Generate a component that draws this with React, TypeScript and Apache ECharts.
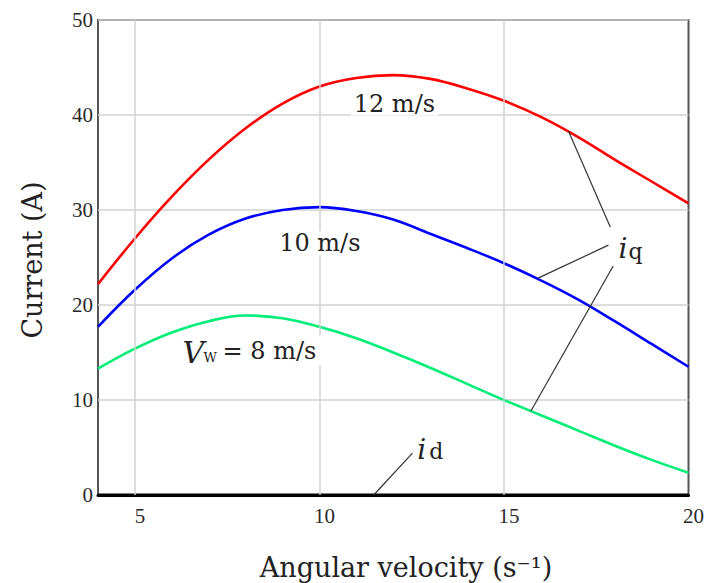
import React, { useEffect, useRef } from "react";
import * as echarts from "echarts";

// Angular velocity samples (s^-1)
const omega = [4, 5, 6, 7, 8, 9, 10, 11, 12, 13, 14, 15, 16, 17, 18, 19, 20];

// q-axis current (A) for three wind speeds
const iq12 = [22.2, 27.0, 31.4, 35.3, 38.6, 41.2, 43.0, 43.9, 44.2, 43.8, 42.8, 41.5, 39.8, 37.7, 35.3, 33.0, 30.7];
const iq10 = [17.7, 21.6, 24.9, 27.4, 29.1, 30.0, 30.3, 29.9, 29.0, 27.5, 26.0, 24.4, 22.6, 20.6, 18.3, 15.9, 13.5];
const iq8 = [13.3, 15.4, 17.1, 18.3, 18.9, 18.6, 17.7, 16.5, 15.0, 13.4, 11.7, 10.0, 8.4, 6.8, 5.2, 3.7, 2.35];
// d-axis current (A) is held at zero
const id = [0, 0, 0, 0, 0, 0, 0, 0, 0, 0, 0, 0, 0, 0, 0, 0, 0];

const xGridValues = [5, 10, 15];

const SERIF = "'DejaVu Serif', serif";
const TICK_FONT = "'Liberation Serif', serif";

const pairs = (ys: number[]) => omega.map((x, i) => [x, ys[i]]);

export default function App() {
  const ref = useRef<HTMLDivElement>(null);

  useEffect(() => {
    if (!ref.current) return;
    const chart = echarts.init(ref.current, null, { renderer: "svg" });

    const curve = (name: string, ys: number[], color: string, width = 2.6) => ({
      name,
      type: "line",
      data: pairs(ys),
      smooth: 0.4,
      showSymbol: false,
      symbol: "none",
      lineStyle: { color, width },
      silent: true,
    });

    chart.setOption({
      animation: false,
      backgroundColor: "#ffffff",
      grid: {
        left: 98,
        right: 15,
        top: 20,
        bottom: 88,
        show: true,
        borderColor: "#555",
        borderWidth: 2,
      },
      xAxis: {
        type: "value",
        min: 4,
        max: 20,
        interval: 1,
        axisLine: { show: true, onZero: false, lineStyle: { color: "#000", width: 3 } },
        axisTick: { show: false },
        splitLine: { show: false },
        axisLabel: {
          formatter: (v: number) => (v % 5 === 0 ? String(v) : ""),
          fontFamily: TICK_FONT,
          fontSize: 21,
          color: "#2a2a2a",
          margin: 10,
          padding: [0, 0, 0, 10],
        },
      },
      yAxis: {
        type: "value",
        min: 0,
        max: 50,
        interval: 10,
        axisLine: { show: false },
        axisTick: { show: false },
        splitLine: { show: true, lineStyle: { color: "#d2d2d2", width: 1.5 } },
        axisLabel: {
          fontFamily: TICK_FONT,
          fontSize: 21,
          color: "#2a2a2a",
          margin: 5,
        },
      },
      series: [
        {
          name: "grid",
          type: "line",
          data: [],
          silent: true,
          markLine: {
            silent: true,
            symbol: "none",
            label: { show: false },
            lineStyle: { color: "#d2d2d2", width: 1.5, type: "solid" },
            data: xGridValues.map((v) => ({ xAxis: v })),
          },
        },
        curve("iq 12 m/s", iq12, "#ff0000"),
        curve("iq 10 m/s", iq10, "#0000ff"),
        curve("iq 8 m/s", iq8, "#00ee77"),
        curve("id", id, "#000000", 3),
      ],
    });

    const p = (x: number, y: number) => chart.convertToPixel({ gridIndex: 0 }, [x, y]) as number[];

    const label = (text: string, at: number[], font: string, extra: any = {}) => ({
      type: "text",
      x: at[0],
      y: at[1],
      z: 100,
      style: {
        text,
        font,
        fill: "#222",
        align: "left",
        verticalAlign: "middle",
        ...extra,
      },
    });

    const leader = (a: number[], b: number[]) => ({
      type: "line",
      z: 90,
      shape: { x1: a[0], y1: a[1], x2: b[0], y2: b[1] },
      style: { stroke: "#333", lineWidth: 1.2 },
    });

    const a12 = p(12.03, 41.2);
    const a10 = p(10.01, 26.5);
    const aV = p(6.29, 15.0);
    const aIq = p(18.1, 25.9);
    const aId = p(12.65, 4.8);

    chart.setOption({
      graphic: [
        label("12 m/s", a12, `24px ${SERIF}`, {
          align: "center",
          backgroundColor: "#fff",
          padding: [0, 3],
        }),
        label("10 m/s", a10, `24px ${SERIF}`, {
          align: "center",
          backgroundColor: "#fff",
          padding: [0, 3],
        }),
        label("= 8 m/s", [aV[0] + 38, aV[1] - 2], `24px ${SERIF}`, {
          backgroundColor: "#fff",
          padding: [3, 6, 3, 2],
        }),
        label("V", aV, `italic 30px ${SERIF}`),
        label("W", [aV[0] + 21, aV[1] + 5], `13px ${SERIF}`),
        label("i", aIq, `italic 28px ${SERIF}`),
        label("q", [aIq[0] + 10, aIq[1] + 3], `22px ${SERIF}`),
        label("i", aId, `italic 28px ${SERIF}`),
        label("d", [aId[0] + 12, aId[1] + 2], `22px ${SERIF}`),
        leader(p(17.88, 28.2), p(16.75, 38.3)),
        leader(p(17.83, 26.3), p(15.91, 22.8)),
        leader(p(17.96, 24.1), p(15.73, 8.85)),
        leader(p(12.52, 4.4), p(11.47, 0)),
        {
          type: "text",
          x: 406,
          y: 567,
          z: 100,
          style: {
            text: "Angular velocity (s⁻¹)",
            font: `27px ${SERIF}`,
            fill: "#222",
            align: "center",
            verticalAlign: "middle",
          },
        },
        {
          type: "text",
          x: 32,
          y: 260,
          rotation: Math.PI / 2,
          z: 100,
          style: {
            text: "Current (A)",
            font: `27px ${SERIF}`,
            fill: "#222",
            align: "center",
            verticalAlign: "middle",
          },
        },
      ],
    });

    return () => chart.dispose();
  }, []);

  return (
    <div
      ref={ref}
      style={{ position: "fixed", left: 0, top: 0, width: 707, height: 583, background: "#fff" }}
    />
  );
}
